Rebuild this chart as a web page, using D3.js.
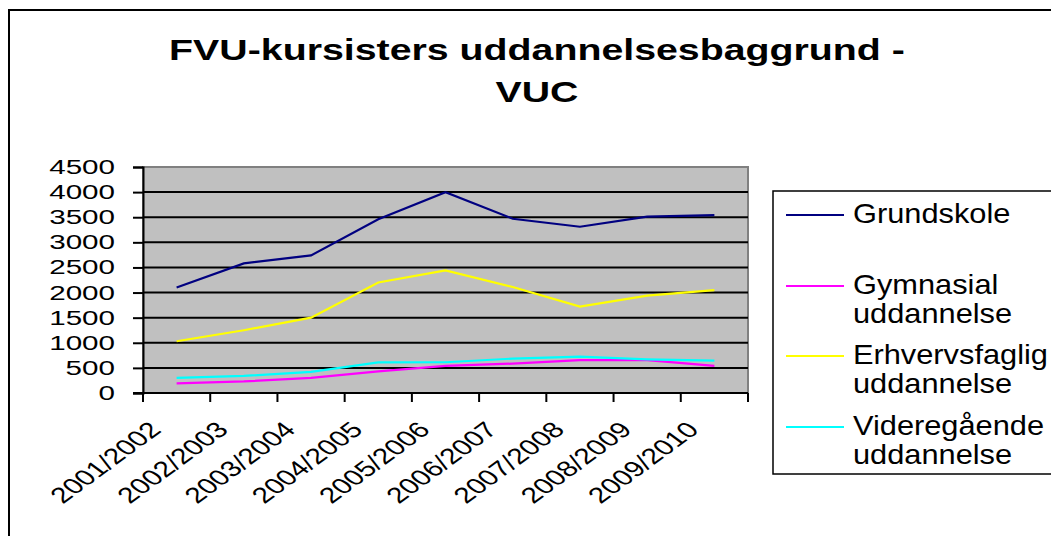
<!DOCTYPE html>
<html>
<head>
<meta charset="utf-8">
<script src="https://cdn.jsdelivr.net/npm/d3@7"></script>
<style>
  body { margin: 0; background: #fff; }
  svg { display: block; font-family: "Liberation Sans", Arial, sans-serif; }
</style>
</head>
<body>
<svg id="chart" width="1051" height="536"></svg>
<script>
const categories = ['2001/2002', '2002/2003', '2003/2004', '2004/2005', '2005/2006',
  '2006/2007', '2007/2008', '2008/2009', '2009/2010'];
const grundskole = [2100, 2580, 2740, 3460, 4000, 3470, 3310, 3510, 3540];
const gymnasial = [190, 230, 300, 430, 540, 585, 655, 655, 540];
const erhvervsfaglig = [1030, 1250, 1500, 2200, 2440, 2110, 1720, 1940, 2050];
const videregaaende = [300, 340, 420, 610, 612, 685, 724, 670, 643];
const yTicks = [0, 500, 1000, 1500, 2000, 2500, 3000, 3500, 4000, 4500];

const series = [
  { name: ['Grundskole'], values: grundskole, color: '#000080' },
  { name: ['Gymnasial', 'uddannelse'], values: gymnasial, color: '#ff00ff' },
  { name: ['Erhvervsfaglig', 'uddannelse'], values: erhvervsfaglig, color: '#ffff00' },
  { name: ['Videregående', 'uddannelse'], values: videregaaende, color: '#00ffff' },
];

const svg = d3.select('#chart');
const plot = { left: 143, right: 748, top: 167, bottom: 393 };

// stretched text helper (the picture is widened horizontally)
function stretchText(g, x, y, str, size, sx, opts = {}) {
  return g.append('text')
    .attr('transform', `translate(${x},${y}) scale(${sx},1)` + (opts.rotate ? ` rotate(${opts.rotate})` : ''))
    .attr('text-anchor', opts.anchor || 'start')
    .attr('font-size', size)
    .attr('font-weight', opts.weight || 'normal')
    .attr('fill', '#000')
    .text(str);
}

// outer frame
svg.append('rect')
  .attr('x', 9).attr('y', 10).attr('width', 1100).attr('height', 600)
  .attr('fill', 'none').attr('stroke', '#000').attr('stroke-width', 2);

// title
stretchText(svg, 537, 60, 'FVU-kursisters uddannelsesbaggrund -', 30, 1.31, { anchor: 'middle', weight: 'bold' });
stretchText(svg, 537, 102, 'VUC', 30, 1.31, { anchor: 'middle', weight: 'bold' });

const x = d3.scaleBand().domain(categories).range([plot.left, plot.right]);
const y = d3.scaleLinear().domain([0, 4500]).range([plot.bottom, plot.top]);

// plot area
svg.append('rect')
  .attr('x', plot.left).attr('y', plot.top)
  .attr('width', plot.right - plot.left).attr('height', plot.bottom - plot.top)
  .attr('fill', '#c0c0c0').attr('stroke', '#808080').attr('stroke-width', 2);

// gridlines
svg.append('g')
  .selectAll('line')
  .data(yTicks.filter((t) => t > 0 && t < 4500))
  .enter()
  .append('line')
  .attr('x1', plot.left).attr('x2', plot.right)
  .attr('y1', (d) => y(d)).attr('y2', (d) => y(d))
  .attr('stroke', '#000').attr('stroke-width', 2);

// y axis
const yAxis = svg.append('g').attr('transform', `translate(${plot.left},0)`)
  .call(d3.axisLeft(y).tickValues(yTicks).tickSize(10).tickFormat(''));
yAxis.select('.domain').attr('stroke', '#000').attr('stroke-width', 2);
yAxis.selectAll('.tick line').attr('stroke', '#000').attr('stroke-width', 2);
yTicks.forEach((t) => stretchText(svg, 115, y(t) + 7, String(t), 20, 1.48, { anchor: 'end' }));

// x axis (ticks on category boundaries)
const bounds = categories.map((c) => x(c)).concat([plot.right]);
svg.append('line')
  .attr('x1', plot.left - 10).attr('x2', plot.right)
  .attr('y1', plot.bottom).attr('y2', plot.bottom)
  .attr('stroke', '#000').attr('stroke-width', 2);
svg.append('g')
  .selectAll('line')
  .data(bounds)
  .enter()
  .append('line')
  .attr('x1', (d) => d).attr('x2', (d) => d)
  .attr('y1', plot.bottom).attr('y2', plot.bottom + 9)
  .attr('stroke', '#000').attr('stroke-width', 2);
categories.forEach((c) => {
  stretchText(svg, x(c) + x.bandwidth() / 2 - 14, 431, c, 22, 1.36, { anchor: 'end', rotate: -45 });
});

// series lines
const line = d3.line()
  .x((d, i) => x(categories[i]) + x.bandwidth() / 2)
  .y((d) => y(d));
svg.append('g')
  .selectAll('path')
  .data(series)
  .enter()
  .append('path')
  .attr('d', (d) => line(d.values))
  .attr('fill', 'none')
  .attr('stroke', (d) => d.color)
  .attr('stroke-width', 2.2);

// legend
const legend = svg.append('g');
legend.append('rect')
  .attr('x', 773).attr('y', 191).attr('width', 400).attr('height', 283)
  .attr('fill', '#fff').attr('stroke', '#000').attr('stroke-width', 1.5);
const baselines = [[223], [294, 323], [364, 393], [435, 464]];
series.forEach((s, i) => {
  const b = baselines[i];
  legend.append('line')
    .attr('x1', 786).attr('x2', 844)
    .attr('y1', b[0] - 8).attr('y2', b[0] - 8)
    .attr('stroke', s.color).attr('stroke-width', 2);
  s.name.forEach((part, j) => stretchText(legend, 853, b[j], part, 27, 1.14));
});
</script>
</body>
</html>
